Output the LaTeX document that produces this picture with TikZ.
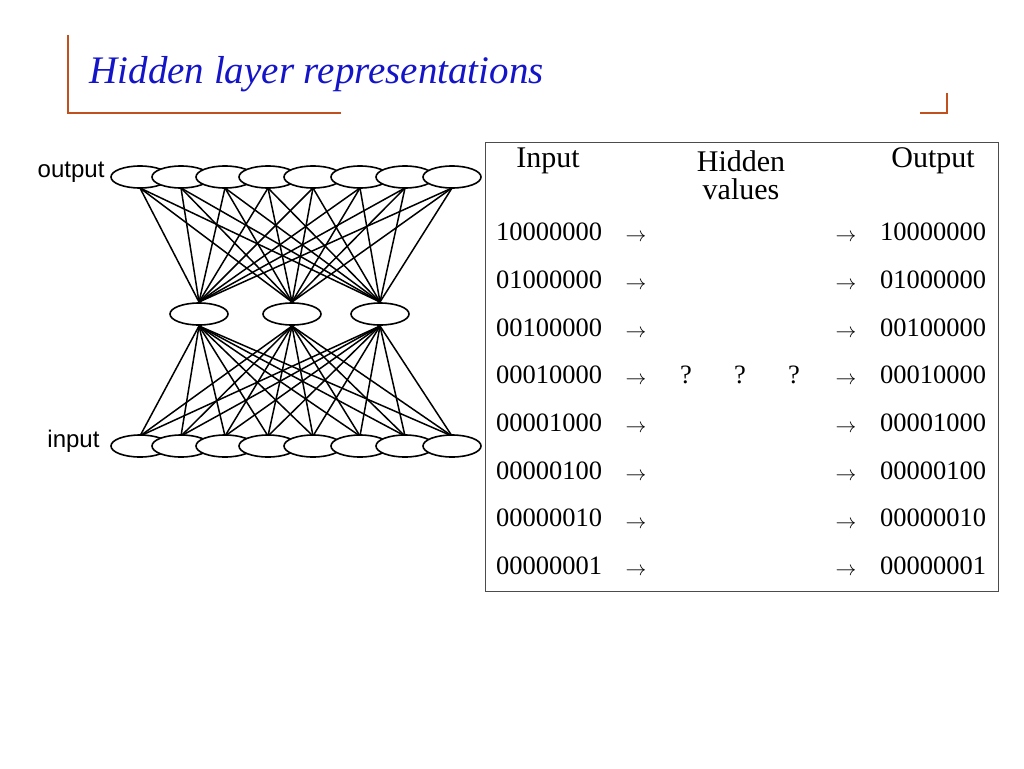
\documentclass[tikz,border=0pt]{standalone}
\usepackage{fontspec}
\setmainfont{Liberation Serif}
\setsansfont{Liberation Sans}
\usetikzlibrary{shapes.geometric}
\begin{document}
\begin{tikzpicture}[x=1pt,y=-1pt,
  unit/.style={draw,ellipse,fill=white,minimum width=58pt,minimum height=22pt,inner sep=0pt,line width=1.6pt},
  conn/.style={line width=1.5pt},
  brack/.style={draw={rgb,255:red,192;green,80;blue,30},line width=1.8pt},
  cell/.style={font=\fontsize{26.5}{30}\selectfont},
  head/.style={font=\fontsize{30}{26}\selectfont,align=center},
  arr/.style={font=\fontsize{20}{22}\selectfont}]
\useasboundingbox (0,0) rectangle (1024,768);
% title
\draw[brack] (68,35) -- (68,113) -- (341,113);
\draw[brack] (947,93) -- (947,113) -- (920,113);
\node[anchor=west,text={rgb,255:red,20;green,20;blue,200},font=\fontsize{39}{40}\selectfont\itshape] (title) at (86,74) {Hidden layer representations};
% network coordinates
\foreach \i/\x in {1/140,2/181,3/225,4/268,5/313,6/360,7/405,8/452}{
  \coordinate (ot\i) at (\x,188);
  \coordinate (it\i) at (\x,436);
}
\foreach \j/\x in {1/199,2/292,3/380}{
  \coordinate (ht\j) at (\x,302);
  \coordinate (hb\j) at (\x,326);
}
\foreach \i in {1,...,8}{\foreach \j in {1,2,3}{
  \draw[conn] (ot\i) -- (ht\j);
  \draw[conn] (hb\j) -- (it\i);
}}
\foreach \i/\x in {1/140,2/181,3/225,4/268,5/313,6/360,7/405,8/452}{
  \node[unit] (o\i) at (\x,177) {};
}
\foreach \i/\x in {1/140,2/181,3/225,4/268,5/313,6/360,7/405,8/452}{
  \node[unit] (in\i) at (\x,446) {};
}
\foreach \j/\x in {1/199,2/292,3/380}{
  \node[unit] (h\j) at (\x,314) {};
}
\node[font=\sffamily\fontsize{24}{26}\selectfont,anchor=east] (outl) at (108,172) {output};
\node[font=\sffamily\fontsize{24}{26}\selectfont,anchor=east] (inl) at (103,441) {input};
% table
\draw[line width=1pt,draw=black!70] (485,142) rectangle (998,591);
\node[head] (hin) at (548,161) {Input};
\node[head,inner sep=0pt] (hhid) at (741,161) {Hidden};
\node[head,inner sep=0pt] (hval) at (741,189) {values};
\node[head] (hout) at (933,161) {Output};
\foreach \c [count=\r] in {10000000,01000000,00100000,00010000,00001000,00000100,00000010,00000001}{
  \pgfmathsetmacro\yy{232+47.7*(\r-1)}
  \node[cell] (a\r) at (549,\yy) {\c};
  \node[arr] (la\r) at (636,\yy+6) {$\rightarrow$};
  \node[arr] (ra\r) at (846,\yy+6) {$\rightarrow$};
  \node[cell] (b\r) at (933,\yy) {\c};
}
\node[cell] (q1) at (686,375) {?};
\node[cell] (q2) at (740,375) {?};
\node[cell] (q3) at (794,375) {?};
\end{tikzpicture}
\end{document}
